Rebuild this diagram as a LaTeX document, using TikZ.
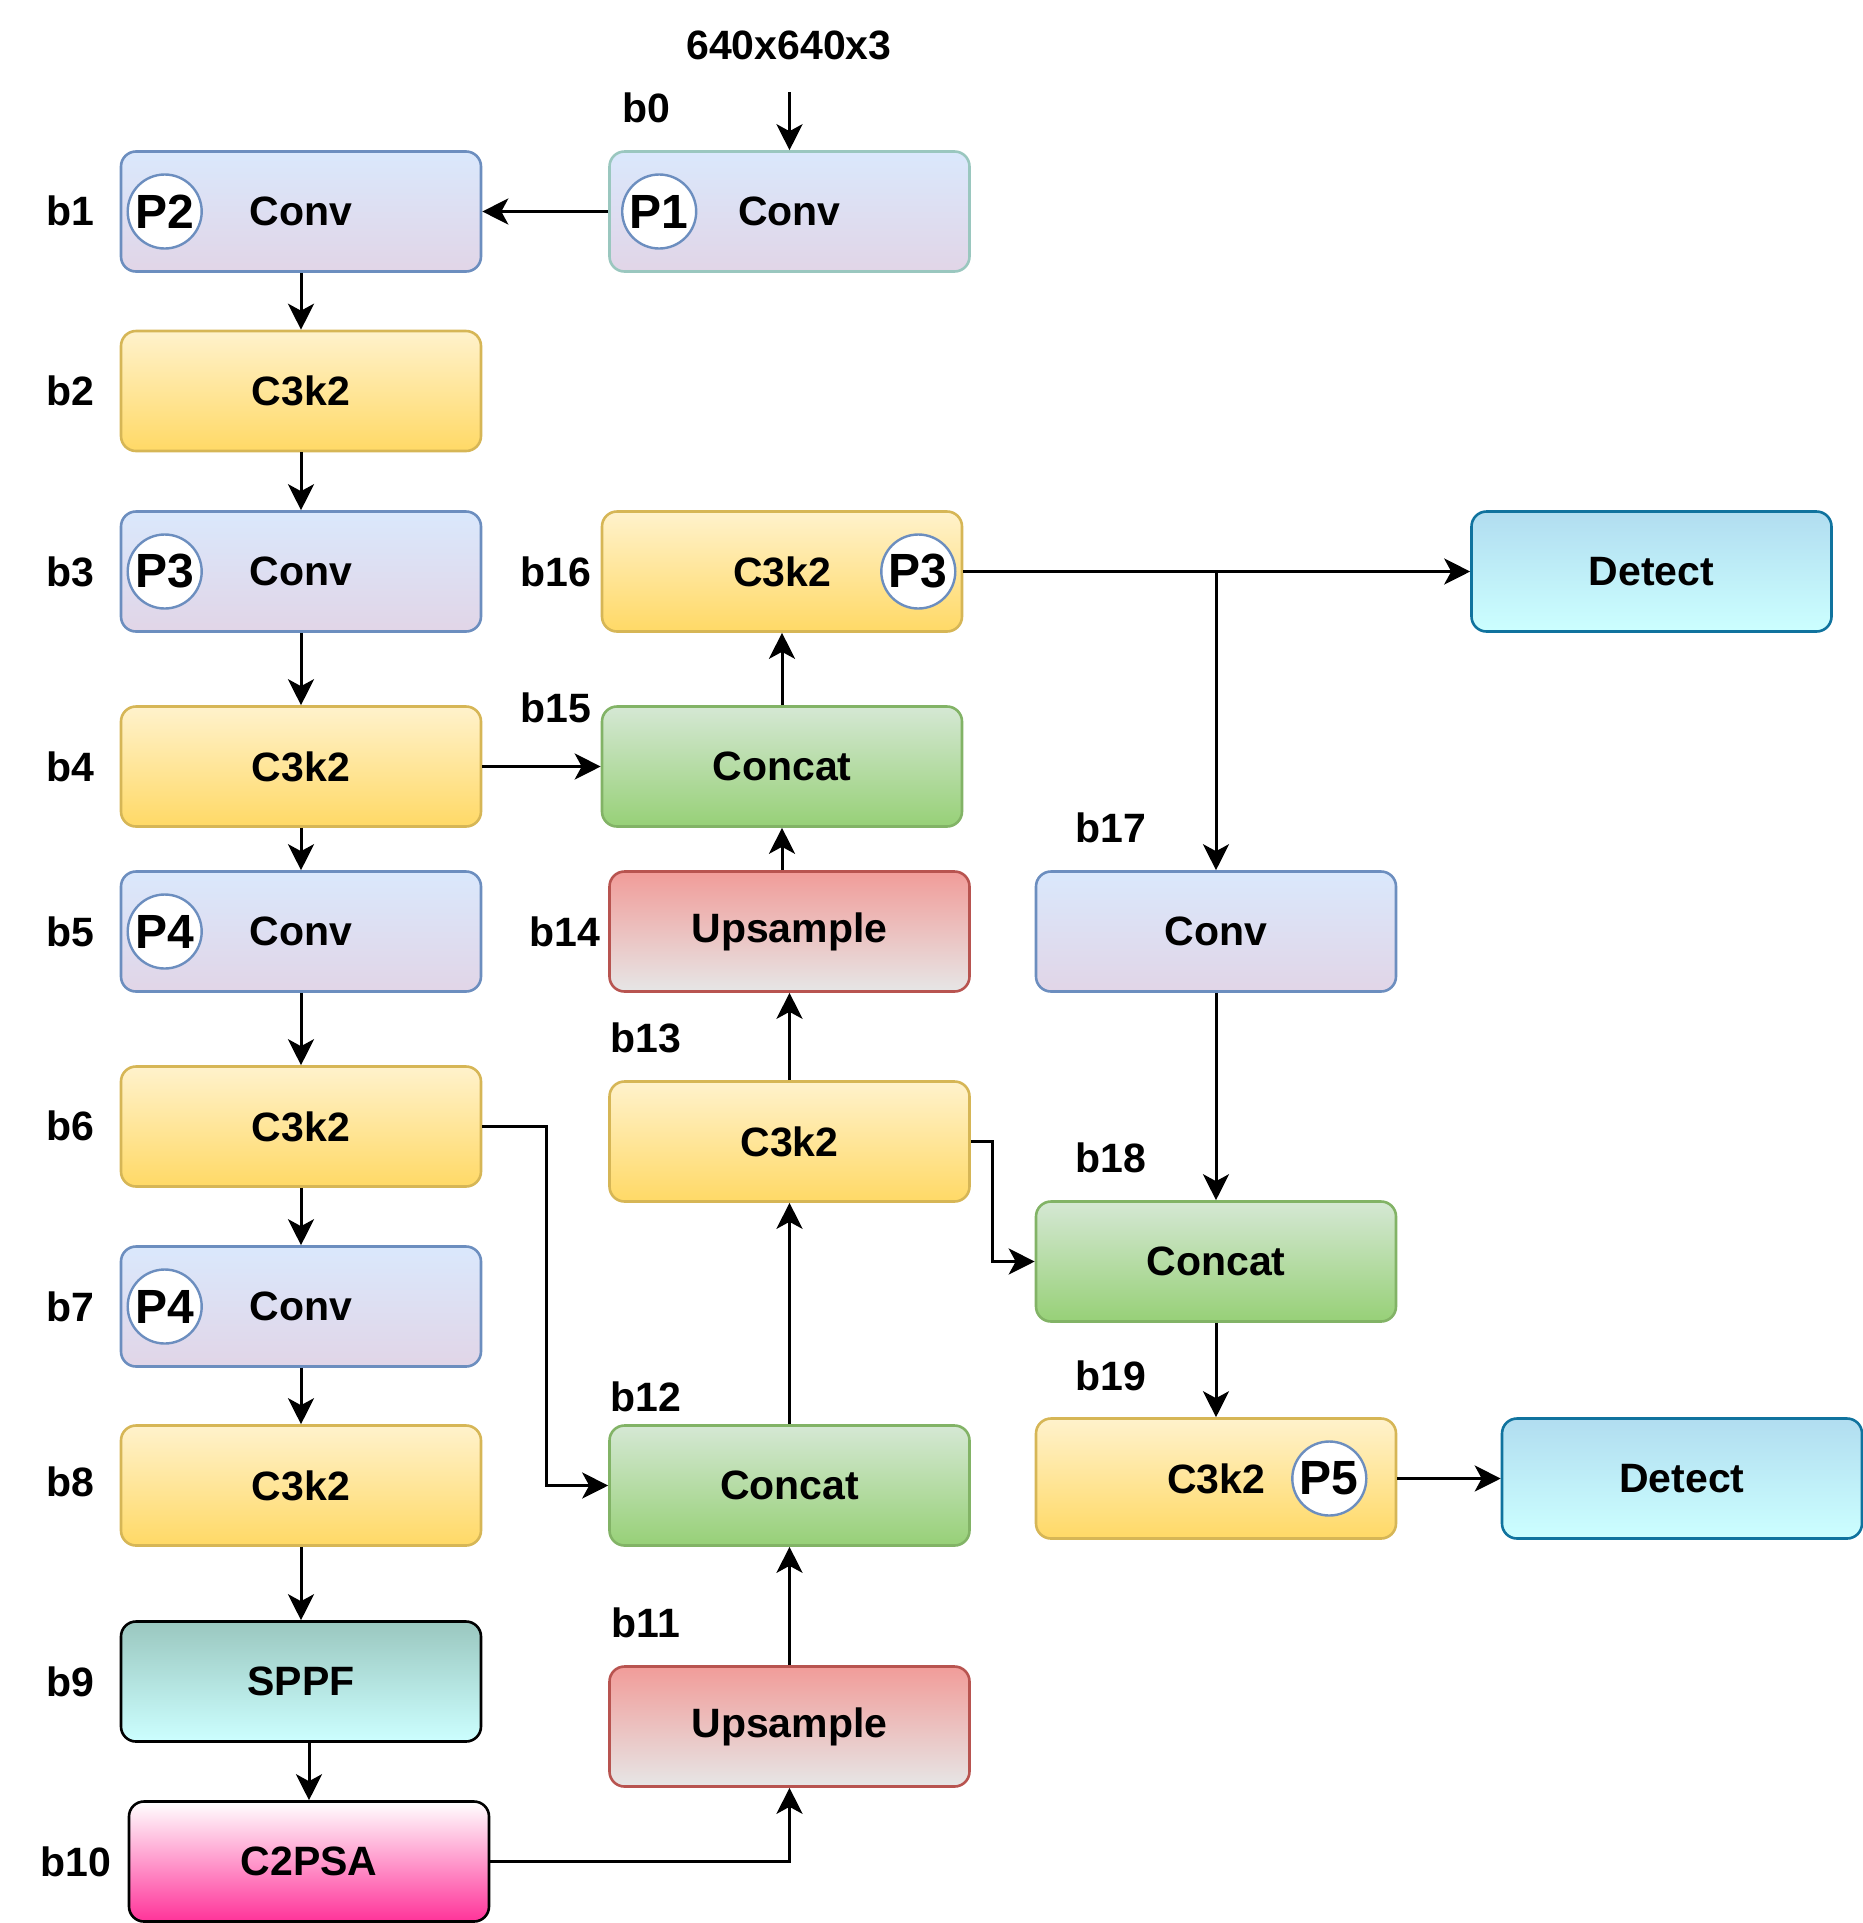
\documentclass[tikz,border=0pt]{standalone}
\usepackage{fontspec}
\setmainfont{Liberation Sans}
\usetikzlibrary{arrows.meta}

\definecolor{convtop}{HTML}{DAE8FC}
\definecolor{convbot}{HTML}{E1D5E7}
\definecolor{convline}{HTML}{6C8EBF}
\definecolor{inline}{HTML}{9AC7BF}
\definecolor{ctop}{HTML}{FFF2CC}
\definecolor{cbot}{HTML}{FFD966}
\definecolor{cline}{HTML}{D6B656}
\definecolor{cattop}{HTML}{D5E8D4}
\definecolor{catbot}{HTML}{97D077}
\definecolor{catline}{HTML}{82B366}
\definecolor{uptop}{HTML}{F19C99}
\definecolor{upbot}{HTML}{E6E6E6}
\definecolor{upline}{HTML}{B85450}
\definecolor{spptop}{HTML}{9AC7BF}
\definecolor{sppbot}{HTML}{CCFFFF}
\definecolor{psabot}{HTML}{FF3399}
\definecolor{dettop}{HTML}{B1DDF0}
\definecolor{detbot}{HTML}{CCFFFF}
\definecolor{detline}{HTML}{10739E}

\begin{document}
\begin{tikzpicture}[x=0.5pt, y=-0.5pt,
        every node/.style={font=\bfseries\fontsize{20.5}{24}\selectfont},
        block/.style={rectangle, rounded corners=7.5pt, draw, line width=1.3pt,
            minimum width=180pt, minimum height=60pt, inner sep=0pt},
        conv/.style={block, draw=convline, top color=convtop, bottom color=convbot},
        cthree/.style={block, draw=cline, top color=ctop, bottom color=cbot},
        concat/.style={block, draw=catline, top color=cattop, bottom color=catbot},
        upsample/.style={block, draw=upline, top color=uptop, bottom color=upbot},
        sppf/.style={block, draw=black, top color=spptop, bottom color=sppbot},
        psa/.style={block, draw=black, top color=white, bottom color=psabot},
        detect/.style={block, draw=detline, top color=dettop, bottom color=detbot},
        pmark/.style={circle, draw=convline, fill=white, line width=1.2pt,
            minimum size=37pt, inner sep=0pt, font=\bfseries\fontsize{24}{28}\selectfont},
        tag/.style={inner sep=0pt},
        link/.style={draw, line width=1.5pt, -{Stealth[length=13pt,width=13pt,inset=3.5pt]}}]
    \useasboundingbox (0,0) rectangle (1863,1923);

    % backbone
    \node [conv, draw=inline] (b0) at (789.5,211.5) {Conv};
    \node [conv] (b1) at (301,211.5) {Conv};
    \node [cthree] (b2) at (301,391) {C3k2};
    \node [conv] (b3) at (301,571.5) {Conv};
    \node [cthree] (b4) at (301,766.5) {C3k2};
    \node [conv] (b5) at (301,931.5) {Conv};
    \node [cthree] (b6) at (301,1126.5) {C3k2};
    \node [conv] (b7) at (301,1306.5) {Conv};
    \node [cthree] (b8) at (301,1485.5) {C3k2};
    \node [sppf] (b9) at (301,1681.5) {SPPF};
    \node [psa] (b10) at (309,1861.5) {C2PSA};

    % neck
    \node [upsample] (b11) at (789.5,1726.5) {Upsample};
    \node [concat] (b12) at (789.5,1485.5) {Concat};
    \node [cthree] (b13) at (789.5,1141.5) {C3k2};
    \node [upsample] (b14) at (789.5,931.5) {Upsample};
    \node [concat] (b15) at (782,766.5) {Concat};
    \node [cthree] (b16) at (782,571.5) {C3k2};
    \node [conv] (b17) at (1216,931.5) {Conv};
    \node [concat] (b18) at (1216,1261.5) {Concat};
    \node [cthree] (b19) at (1216,1478.5) {C3k2};

    % heads
    \node [detect] (det1) at (1651.5,571.5) {Detect};
    \node [detect] (det2) at (1682,1478.5) {Detect};

    % level marks
    \node [pmark] (p1) at ([xshift=25.5pt]b0.west) {P1};
    \node [pmark] (p2) at ([xshift=22.5pt]b1.west) {P2};
    \node [pmark] (p3) at ([xshift=22.5pt]b3.west) {P3};
    \node [pmark] (p4a) at ([xshift=22.5pt]b5.west) {P4};
    \node [pmark] (p4b) at ([xshift=22.5pt]b7.west) {P4};
    \node [pmark] (p3b) at ([xshift=-22.5pt]b16.east) {P3};
    \node [pmark] (p5) at ([xshift=-34pt]b19.east) {P5};

    % labels
    \node [tag] (size) at (789,45) {640x640x3};
    \node [tag] (t0) at (646,108) {b0};
    \node [tag] (t1) at (70,211) {b1};
    \node [tag] (t2) at (70,391) {b2};
    \node [tag] (t3) at (70,572) {b3};
    \node [tag] (t4) at (70,767) {b4};
    \node [tag] (t5) at (70,932) {b5};
    \node [tag] (t6) at (70,1126) {b6};
    \node [tag] (t7) at (70,1307) {b7};
    \node [tag] (t8) at (70,1482) {b8};
    \node [tag] (t9) at (70,1682) {b9};
    \node [tag] (t10) at (76,1862) {b10};
    \node [tag] (t11) at (646,1623) {b11};
    \node [tag] (t12) at (646,1397) {b12};
    \node [tag] (t13) at (646,1038) {b13};
    \node [tag] (t14) at (565,932) {b14};
    \node [tag] (t15) at (556,708) {b15};
    \node [tag] (t16) at (556,572) {b16};
    \node [tag] (t17) at (1111,828) {b17};
    \node [tag] (t18) at (1111,1158) {b18};
    \node [tag] (t19) at (1111,1376) {b19};

    % connectors
    \coordinate (in) at (789.5,92);
    \draw [link] (in) -- (b0.north);
    \draw [link] (b0.west) -- (b1.east);
    \draw [link] (b1.south) -- (b2.north);
    \draw [link] (b2.south) -- (b3.north);
    \draw [link] (b3.south) -- (b4.north);
    \draw [link] (b4.south) -- (b5.north);
    \draw [link] (b5.south) -- (b6.north);
    \draw [link] (b6.south) -- (b7.north);
    \draw [link] (b7.south) -- (b8.north);
    \draw [link] (b8.south) -- (b9.north);
    \draw [link] (b10.north |- b9.south) -- (b10.north);
    \draw [link] (b10.east) -| (b11.south);
    \draw [link] (b11.north) -- (b12.south);
    \draw [link] (b6.east) -- ++(64,0) |- (b12.west);
    \draw [link] (b12.north) -- (b13.south);
    \draw [link] (b13.north) -- (b14.south);
    \draw [link] (b15.south |- b14.north) -- (b15.south);
    \draw [link] (b4.east) -- (b15.west);
    \draw [link] (b15.north) -- (b16.south);
    \draw [link] (b16.east) -- (det1.west);
    \draw [link] (b16.east -| b17.north) -- (b17.north);
    \draw [link] (b17.south) -- (b18.north);
    \draw [link] (b13.east) -- ++(22,0) |- (b18.west);
    \draw [link] (b18.south) -- (b19.north);
    \draw [link] (b19.east) -- (det2.west);
\end{tikzpicture}
\end{document}
